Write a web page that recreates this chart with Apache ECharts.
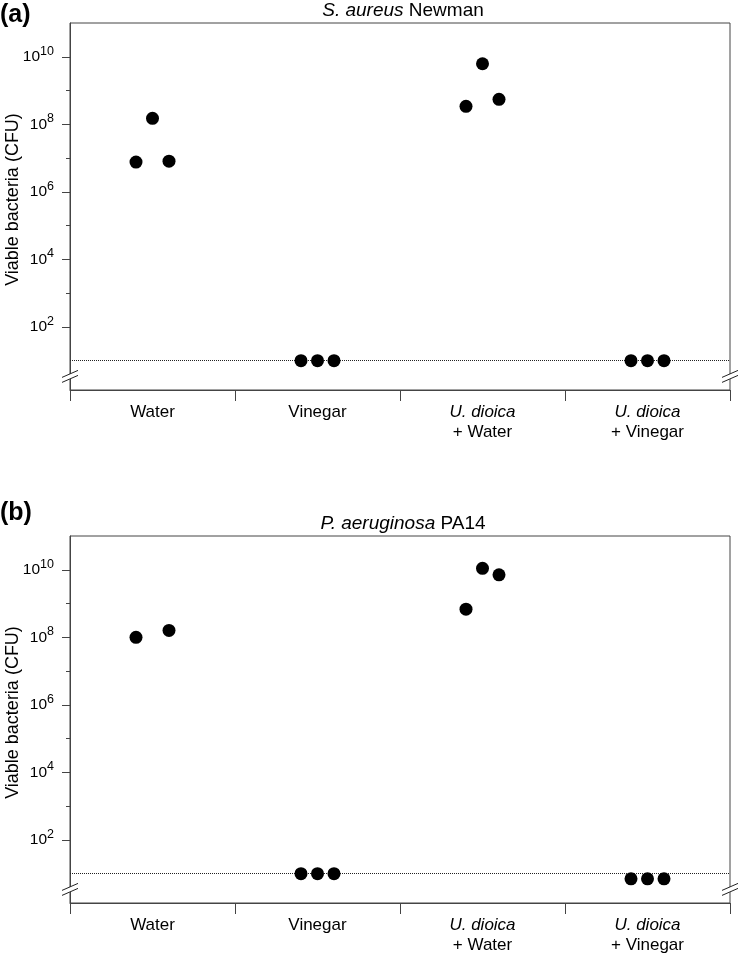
<!DOCTYPE html>
<html><head><meta charset="utf-8">
<script src="https://cdn.jsdelivr.net/npm/echarts@6/dist/echarts.min.js"></script>
<style>html,body{margin:0;padding:0;background:#fff}#c{width:740px;height:955px}</style>
</head><body><div id="c"></div>
<script>
// ---- data ----
const categories = ['Water', 'Vinegar', 'U. dioica + Water', 'U. dioica + Vinegar'];
const panelLabels = ['(a)', '(b)'];
const panelTitlesItalic = ['S. aureus', 'P. aeruginosa'];
const panelTitlesPlain = [' Newman', ' PA14'];
const yAxisName = 'Viable bacteria (CFU)';
const detectionLimit = 10;
const majorTickValues = [1e2, 1e4, 1e6, 1e8, 1e10];
const minorTickValues = [1e3, 1e5, 1e7, 1e9];
// panel (a): three replicates per condition (CFU)
const aWater = [7.6e6, 1.5e8, 8.1e6];
const aVinegar = [10, 10, 10];
const aUdWater = [3.4e8, 6.2e9, 5.5e8];
const aUdVinegar = [10, 10, 10];
// panel (b)
const bWater = [1.0e8, null, 1.6e8];
const bVinegar = [10, 10, 10];
const bUdWater = [6.8e8, 1.1e10, 7.1e9];
const bUdVinegar = [7, 7, 7];

// ---- layout ----
const FONT = '"Liberation Sans", Arial, Helvetica, sans-serif';
const gridLeft = 70, gridRight = 10, gridTops = [23, 536], gridH = 367;
const panelLabelTops = [3, 501];
const yMin = 1.35, yMax = 1e11;
const jitterPx = 16.5;
const breakValue = 3.3;
const axisColor = '#444';

const panelData = [
  [aWater, aVinegar, aUdWater, aUdVinegar],
  [bWater, bVinegar, bUdWater, bUdVinegar]
];

const chart = echarts.init(document.getElementById('c'), null, {renderer: 'canvas'});

const grids = [], xAxes = [], yAxes = [], series = [], titles = [];
panelData.forEach((pd, p) => {
  grids.push({left: gridLeft, right: gridRight, top: gridTops[p], height: gridH,
    containLabel: false, outerBoundsMode: 'none',
    show: true, borderColor: axisColor, borderWidth: 1, backgroundColor: '#fff'});
  titles.push({text: panelLabels[p], left: 0, top: panelLabelTops[p], padding: 0,
    textStyle: {fontFamily: FONT, fontSize: 25, fontWeight: 'bold', color: '#000'}});
  titles.push({text: '{i|' + panelTitlesItalic[p] + '}' + panelTitlesPlain[p],
    left: gridLeft + (740 - gridLeft - gridRight) / 2 + 3, textAlign: 'center', top: gridTops[p] - 22, padding: 0,
    textStyle: {fontFamily: FONT, fontSize: 19, fontWeight: 'normal', color: '#000',
      rich: {i: {fontFamily: FONT, fontSize: 19, fontStyle: 'italic', color: '#000'}}}});
  xAxes.push({type: 'category', gridIndex: p, data: categories, boundaryGap: true,
    axisLine: {show: true, lineStyle: {color: axisColor, width: 1}},
    axisTick: {show: true, interval: 0, length: 11, alignWithLabel: false, lineStyle: {color: axisColor}},
    axisLabel: {interval: 0, margin: 12, fontFamily: FONT, fontSize: 17, lineHeight: 20, color: '#000',
      formatter: v => {
        const parts = v.split(' + ');
        return parts.length > 1 ? '{i|' + parts[0] + '}\n+ ' + parts[1] : v;
      },
      rich: {i: {fontFamily: FONT, fontSize: 17, lineHeight: 20, fontStyle: 'italic', color: '#000'}}},
    splitLine: {show: false}});
  yAxes.push({type: 'log', logBase: 10, gridIndex: p, position: 'left', min: yMin, max: yMax,
    axisLine: {show: true, lineStyle: {color: axisColor, width: 1}},
    axisTick: {show: true, customValues: majorTickValues, length: 8, lineStyle: {color: axisColor}},
    axisLabel: {customValues: majorTickValues, margin: 16, color: '#000',
      formatter: v => '{b|10}{s|' + Math.round(Math.log10(v)) + '}',
      rich: {b: {fontFamily: FONT, fontSize: 15.5, lineHeight: 24, color: '#000'},
             s: {fontFamily: FONT, fontSize: 12.5, verticalAlign: 'top', color: '#000'}}},
    splitLine: {show: false}, minorTick: {show: false},
    name: yAxisName, nameLocation: 'middle', nameGap: 48, nameMoveOverlap: false,
    nameTextStyle: {fontFamily: FONT, fontSize: 18, color: '#000', padding: [0, 0, 0, 14]}});
  yAxes.push({type: 'log', logBase: 10, gridIndex: p, position: 'left', min: yMin, max: yMax,
    axisLine: {show: false},
    axisTick: {show: true, customValues: minorTickValues, length: 4, lineStyle: {color: axisColor}},
    axisLabel: {show: false}, splitLine: {show: false}});
  for (let r = 0; r < 3; r++) {
    const s = {type: 'scatter', xAxisIndex: p, yAxisIndex: p * 2,
      data: pd.map(arr => (arr[r] == null ? '-' : arr[r])),
      symbol: 'circle', symbolSize: 13, symbolOffset: [(r - 1) * jitterPx, 0],
      itemStyle: {color: '#000', opacity: 1}, silent: true, z: 3};
    if (r === 0) {
      s.markLine = {silent: true, symbol: 'none', label: {show: false},
        lineStyle: {type: 'dotted', color: '#222', width: 1, opacity: 1}, data: [{yAxis: detectionLimit}], z: 2};
    }
    series.push(s);
  }
});

chart.setOption({
  animation: false, backgroundColor: '#fff',
  textStyle: {fontFamily: FONT},
  title: titles, grid: grids, xAxis: xAxes, yAxis: yAxes, series: series
});

// axis-break marks on the left and right edges of each panel
const graphics = [];
[0, 1].forEach(p => {
  const y = chart.convertToPixel({yAxisIndex: p * 2}, breakValue);
  [gridLeft, 740 - gridRight].forEach(x => {
    graphics.push({type: 'polygon', z: 100,
      shape: {points: [[x - 8, y + 5.5], [x + 8, y - 1.5], [x + 8, y - 6.5], [x - 8, y + 0.5]]},
      style: {fill: '#fff', stroke: null}});
    graphics.push({type: 'line', z: 101, shape: {x1: x - 8, y1: y + 5.5, x2: x + 8, y2: y - 1.5},
      style: {stroke: '#222', lineWidth: 1}});
    graphics.push({type: 'line', z: 101, shape: {x1: x - 8, y1: y + 0.5, x2: x + 8, y2: y - 6.5},
      style: {stroke: '#222', lineWidth: 1}});
  });
});
chart.setOption({graphic: graphics});
</script>
</body></html>
